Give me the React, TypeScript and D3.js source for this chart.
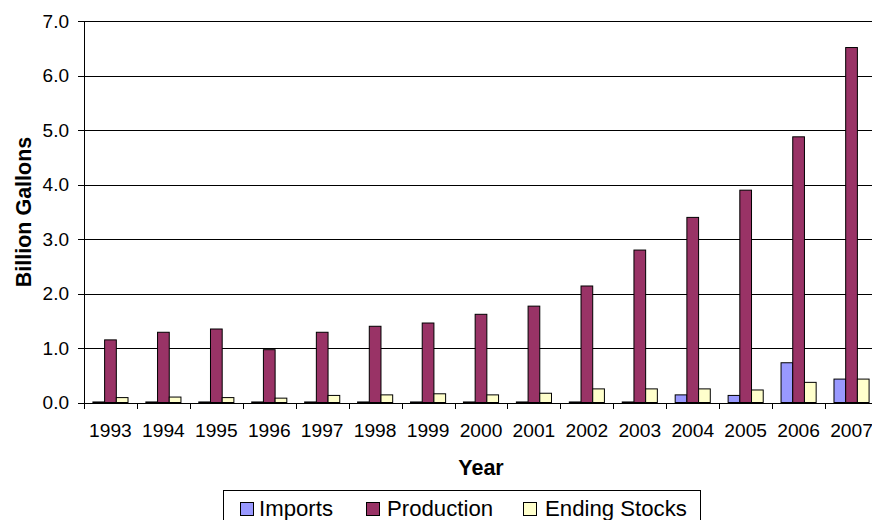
import React from "react";
import * as d3 from "d3";

const years = ["1993","1994","1995","1996","1997","1998","1999","2000","2001","2002","2003","2004","2005","2006","2007"];
const imports = [0.01,0.01,0.01,0.01,0.01,0.01,0.01,0.01,0.01,0.01,0.01,0.14,0.13,0.73,0.43];
const production = [1.15,1.29,1.35,0.97,1.29,1.40,1.46,1.62,1.77,2.14,2.80,3.40,3.90,4.88,6.52];
const endingStocks = [0.09,0.10,0.09,0.08,0.13,0.14,0.16,0.14,0.17,0.25,0.25,0.25,0.23,0.37,0.43];
const seriesNames = ["Imports","Production","Ending Stocks"];
const seriesColors = ["#9999FF","#993366","#FFFFCC"];
const yTicks = [0,1,2,3,4,5,6,7];

const FONT = "'Liberation Sans', Arial, sans-serif";

export default function App() {
  const W = 872, H = 520;
  const left = 84, right = 878, top = 21.4, bottom = 402.5;
  const x = d3.scaleBand<string>().domain(years).range([left, right]).padding(0);
  const xi = d3.scaleBand<string>().domain(seriesNames).range([0, x.bandwidth()]).paddingInner(0).paddingOuter(0.762);
  const y = d3.scaleLinear().domain([0, 7]).range([bottom, top]);
  const fmt = d3.format(".1f");
  const data = [imports, production, endingStocks];

  const legendItems = [
    { name: seriesNames[0], color: seriesColors[0], sx: 240, tx: 259 },
    { name: seriesNames[1], color: seriesColors[1], sx: 366, tx: 387 },
    { name: seriesNames[2], color: seriesColors[2], sx: 523, tx: 545 },
  ];

  return (
    <svg width={W} height={H} style={{ position: "absolute", left: 0, top: 0, background: "#fff" }} fontFamily={FONT}>
      <rect x={0} y={0} width={W} height={H} fill="#fff" />
      {yTicks.filter(t => t > 0).map(t => (
        <line key={"g" + t} x1={left} x2={right} y1={Math.round(y(t)) + 0.5} y2={Math.round(y(t)) + 0.5} stroke="#000" strokeWidth={1} shapeRendering="crispEdges" />
      ))}
      {data.map((vals, si) => (
        <g key={"s" + si}>
          {years.map((yr, i) => {
            const bx = (x(yr) as number) + (xi(seriesNames[si]) as number);
            const by = y(vals[i]);
            return (
              <rect key={yr} x={bx} y={by} width={xi.bandwidth()} height={Math.max(0, y(0) - by)}
                fill={seriesColors[si]} stroke="#000" strokeWidth={1} />
            );
          })}
        </g>
      ))}
      <line x1={left + 0.5} x2={left + 0.5} y1={top} y2={bottom} stroke="#000" strokeWidth={1} shapeRendering="crispEdges" />
      <line x1={left} x2={right} y1={Math.round(bottom) + 0.5} y2={Math.round(bottom) + 0.5} stroke="#000" strokeWidth={1} shapeRendering="crispEdges" />
      {yTicks.map(t => (
        <g key={"yt" + t}>
          <line x1={78} x2={left} y1={Math.round(y(t)) + 0.5} y2={Math.round(y(t)) + 0.5} stroke="#000" strokeWidth={1} shapeRendering="crispEdges" />
          <text x={69} y={y(t)} dy="0.35em" textAnchor="end" fontSize={19} fill="#000">{fmt(t)}</text>
        </g>
      ))}
      {years.map(yr => (
        <line key={"xt" + yr} x1={Math.round(x(yr) as number) + 0.5} x2={Math.round(x(yr) as number) + 0.5}
          y1={bottom} y2={bottom + 6} stroke="#000" strokeWidth={1} shapeRendering="crispEdges" />
      ))}
      {years.map(yr => (
        <text key={"xl" + yr} x={(x(yr) as number) + x.bandwidth() / 2} y={437} textAnchor="middle" fontSize={19.2} fill="#000">{yr}</text>
      ))}
      <text x={481} y={475} textAnchor="middle" fontSize={21.5} fontWeight="bold" fill="#000">Year</text>
      <text transform={`translate(31,212) rotate(-90)`} textAnchor="middle" fontSize={21.5} fontWeight="bold" fill="#000">Billion Gallons</text>
      <rect x={223.5} y={490.5} width={477} height={40} fill="#fff" stroke="#000" strokeWidth={1} shapeRendering="crispEdges" />
      {legendItems.map(it => (
        <g key={it.name}>
          <rect x={it.sx + 0.5} y={502.5} width={13} height={13} fill={it.color} stroke="#000" strokeWidth={1} shapeRendering="crispEdges" />
          <text x={it.tx} y={515.7} fontSize={22.2} fill="#000">{it.name}</text>
        </g>
      ))}
    </svg>
  );
}
